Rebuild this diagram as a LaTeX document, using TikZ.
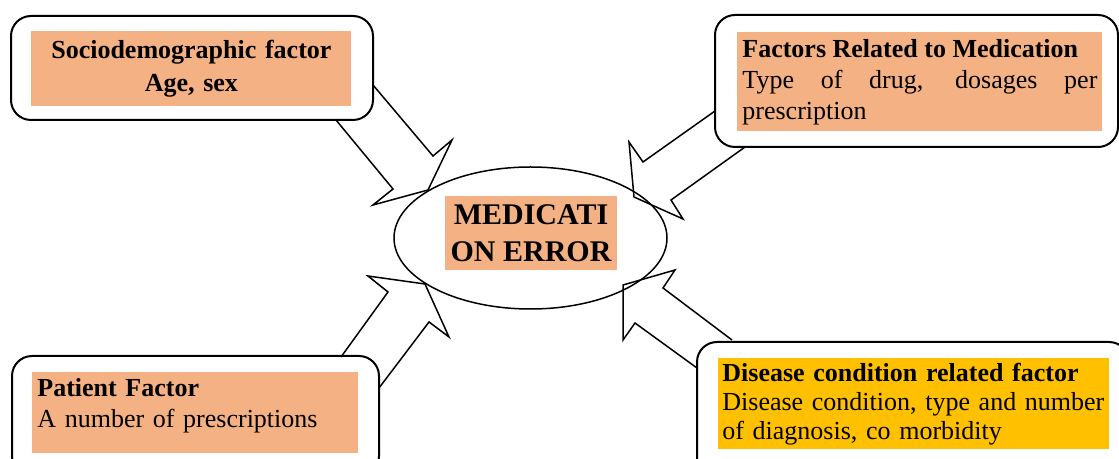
\documentclass[tikz,border=0pt]{standalone}
\usepackage{fontspec}
\setmainfont{Liberation Serif}
\usetikzlibrary{shapes.geometric}
\definecolor{salmon}{HTML}{F4B183}
\definecolor{gold}{HTML}{FFC000}

\begin{document}
\begin{tikzpicture}[x=0.5pt,y=-0.5pt,%
                    outerbox/.style={draw,line width=1pt,rounded corners=10pt,inner sep=0},
                    factor/.style={fill=salmon,inner xsep=2.5pt,inner ysep=0pt,anchor=north west,
                                   font=\fontsize{13}{15.5}\selectfont},
                    blockarrow/.style={draw,line width=0.75pt,line join=miter},
        ]
        \useasboundingbox (0,0) rectangle (1119,459);
        \clip (0,0) rectangle (1119,459);
%
        \node[outerbox,minimum width=181pt,minimum height=52pt] (sociobox) at (192,68) {};
        \node[outerbox,minimum width=201.5pt,minimum height=66pt] (medbox) at (916.5,81) {};
        \node[outerbox,minimum width=183.5pt,minimum height=60pt] (patbox) at (195.5,416) {};
        \node[outerbox,minimum width=216pt,minimum height=69pt] (disbox) at (913,411) {};
%
        \node[factor,minimum width=160pt,minimum height=37.5pt,text width=155pt,align=center,
              font=\fontsize{13}{16.5}\selectfont\bfseries] (socio) at (31,31)
            {Sociodemographic factor\\Age, sex};
        \node[factor,minimum width=182.5pt,minimum height=49.5pt,text width=177.5pt,align=justify] (med) at (737,32)
            {\textbf{Factors Related to Medication}\\Type of drug, dosages per\linebreak prescription};
        \node[factor,minimum width=163pt,text width=158pt,align=left,inner ysep=3pt] (pat) at (32,372)
            {\textbf{Patient Factor}\\A number of prescriptions\\[-5.5pt]\mbox{}};
        \node[factor,fill=gold,minimum width=195.5pt,minimum height=45.5pt,inner xsep=2pt,text width=191.5pt,align=left,
              font=\fontsize{13}{14.5}\selectfont] (dis) at (718,358)
            {\textbf{Disease condition related factor}\\Disease condition, type and number\\of diagnosis, co morbidity};
%
        \draw[blockarrow] (373,85) -- (433,156) -- (452,140) -- (428,190) -- (373,205) -- (393,189) -- (336,120);
        \draw[blockarrow] (715,111) -- (643,162) -- (629,142) -- (634,197) -- (683,219) -- (671,200) -- (745,147);
        \draw[blockarrow] (341,357) -- (388,292) -- (368,276) -- (425,284) -- (449,337) -- (429,322) -- (379,388);
        \draw[blockarrow] (732,340) -- (663,288) -- (675,270) -- (623,285) -- (623,340) -- (635,323) -- (697,368);
%
        \node[ellipse,draw,line width=0.75pt,minimum width=136.5pt,minimum height=71pt,inner sep=0] (error) at (530.5,238) {};
        \node[fill=salmon,minimum width=86pt,minimum height=37pt,inner sep=0,align=center,
              font=\fontsize{15}{18.5}\selectfont\bfseries] (errtext) at (531,233)
            {MEDICATI\\ON ERROR};
    \end{tikzpicture}
\end{document}
